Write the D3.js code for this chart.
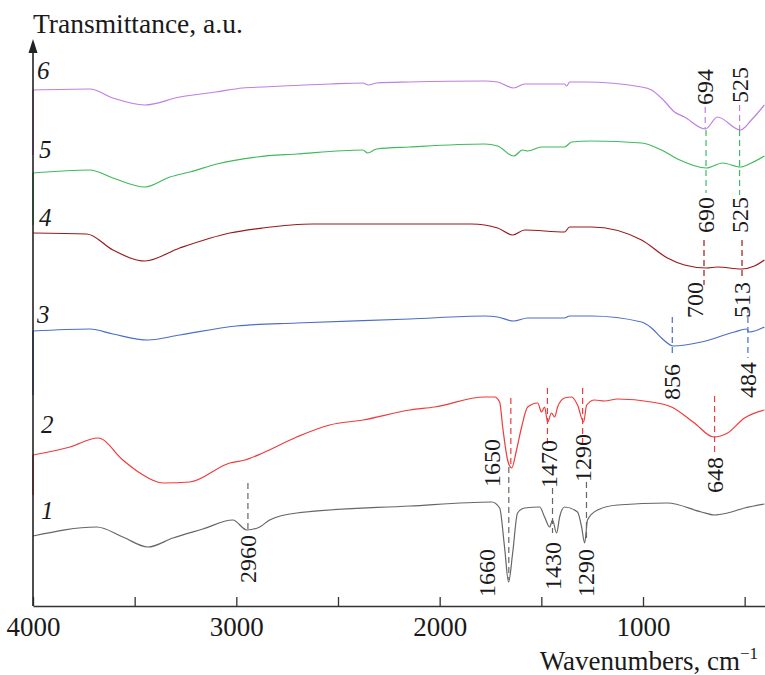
<!DOCTYPE html>
<html>
<head>
<meta charset="utf-8">
<script src="https://cdn.jsdelivr.net/npm/d3@7"></script>
<style>
  body { margin: 0; background: #fff; }
  text { font-family: "Liberation Serif", "Times New Roman", serif; fill: #1a1a1a; }
</style>
</head>
<body>
<div id="chart-area"></div>
<script>
// wavenumber (cm-1) and transmittance (a.u., curves stacked with offsets)
const wn1 = [4000, 3686, 3558, 3435, 3312, 3165, 3017, 2948, 2885, 2836, 2703, 2147, 1744, 1705, 1681, 1661, 1641, 1617, 1582, 1508, 1484, 1459, 1445, 1425, 1410, 1386, 1322, 1302, 1287, 1273, 1224, 1125, 880, 713, 649, 584, 501, 403];
const t1 = [7.0, 7.9, 6.9, 5.9, 6.8, 7.7, 8.6, 7.6, 7.9, 8.6, 9.3, 10.0, 10.4, 9.8, 5.9, 2.4, 5.3, 9.3, 9.8, 9.9, 8.9, 7.9, 8.6, 7.3, 8.9, 9.9, 9.4, 7.9, 6.3, 8.6, 9.6, 10.1, 10.3, 9.4, 9.1, 9.3, 9.8, 10.2];

const wn2 = [4000, 4000, 3818, 3680, 3558, 3474, 3361, 3229, 3032, 2958, 2870, 2703, 2541, 2378, 2147, 2025, 1779, 1730, 1705, 1690, 1666, 1646, 1622, 1597, 1567, 1518, 1499, 1484, 1469, 1450, 1435, 1420, 1386, 1351, 1322, 1292, 1277, 1238, 1189, 1125, 958, 860, 747, 653, 584, 501, 403];
const t2 = [11.1, 15.1, 15.9, 16.8, 14.6, 13.3, 12.3, 12.4, 14.3, 14.6, 15.3, 16.9, 18.1, 18.6, 19.6, 19.9, 20.9, 20.9, 20.4, 17.9, 14.6, 13.8, 15.6, 17.9, 19.9, 20.3, 19.4, 19.9, 18.4, 19.3, 18.9, 19.9, 20.8, 20.9, 20.1, 18.4, 20.1, 20.6, 20.5, 20.7, 20.4, 19.9, 18.3, 16.9, 17.3, 18.8, 19.6];

const wn3 = [4000, 4000, 3720, 3607, 3435, 3278, 3000, 2703, 2147, 1779, 1715, 1636, 1567, 1386, 1361, 1253, 1007, 958, 909, 850, 713, 551, 492, 477, 403];
const t3 = [21.1, 27.5, 27.7, 27.2, 26.6, 27.1, 28.0, 28.3, 28.7, 29.0, 28.9, 28.5, 28.8, 28.8, 29.0, 29.0, 28.4, 27.8, 26.8, 26.0, 26.4, 27.4, 27.7, 27.4, 27.9];

const wn4 = [4000, 3735, 3607, 3450, 3278, 3032, 2870, 2624, 2147, 1843, 1715, 1641, 1582, 1386, 1361, 1253, 1007, 880, 796, 688, 634, 516, 452, 403];
const t4 = [37.3, 37.2, 35.6, 34.5, 35.8, 37.3, 37.8, 38.2, 38.2, 38.2, 37.8, 37.1, 37.6, 37.4, 37.9, 37.9, 36.6, 34.8, 34.1, 33.8, 33.9, 33.7, 34.0, 34.6];

const wn5 = [4000, 4000, 3720, 3607, 3450, 3327, 3229, 3096, 2899, 2703, 2378, 2354, 2310, 2147, 1779, 1715, 1636, 1592, 1567, 1499, 1386, 1351, 1253, 1007, 909, 830, 688, 609, 521, 467, 403];
const t5 = [38.1, 43.3, 43.6, 42.8, 41.9, 42.9, 43.4, 44.2, 44.9, 45.2, 45.6, 45.3, 45.7, 45.9, 46.2, 46.0, 45.0, 45.6, 45.5, 45.9, 45.9, 46.4, 46.5, 46.3, 45.6, 44.7, 43.8, 44.3, 43.9, 44.3, 45.0];

const wn6 = [4000, 4000, 3720, 3607, 3450, 3278, 3100, 2968, 2870, 2540, 2378, 2350, 2310, 2147, 1779, 1715, 1636, 1582, 1386, 1376, 1360, 1287, 1007, 958, 900, 845, 796, 693, 634, 521, 467, 403];
const t6 = [45.1, 51.6, 51.7, 50.8, 50.1, 50.9, 51.4, 51.8, 51.9, 52.2, 52.3, 52.1, 52.3, 52.4, 52.5, 52.4, 51.8, 52.2, 52.2, 52.0, 52.4, 52.4, 51.9, 51.6, 50.6, 49.4, 48.9, 47.7, 48.9, 47.6, 48.6, 50.1];

const curveNames = ["1", "2", "3", "4", "5", "6"];
const curveColors = ["#666666", "#ee3b3b", "#4a6fc8", "#9a1a1a", "#3fba5c", "#bf7fe0"];
const xTicks = [4000, 3500, 3000, 2500, 2000, 1500, 1000, 500];

// peak marks: label, wavenumber of dashed line, curve, line from/to (a.u.), label start (a.u.), label shift (px)
const peakText  = ["2960", "1660", "1650", "1430", "1470", "1290", "1290", "648", "856", "484", "700", "513", "690", "525", "694", "525"];
const peakWn    = [2943, 1660, 1650, 1445, 1470, 1278, 1297, 648, 856, 484, 700, 513, 690, 525, 694, 525];
const peakCurve = [0, 0, 1, 0, 1, 0, 1, 1, 2, 2, 3, 3, 4, 4, 5, 5];
const peakFrom  = [12.3, 13.9, 20.8, 11.8, 21.8, 12.4, 21.8, 21.0, 28.9, 29.9, 36.6, 36.6, 47.6, 47.6, 49.9, 50.1];
const peakTo    = [7.6, 2.6, 13.9, 7.3, 15.9, 6.6, 16.3, 15.3, 24.9, 24.8, 32.1, 32.8, 41.3, 41.1, 47.7, 47.6];
const peakLabel = [2.3, 0.9, 11.9, 1.6, 11.8, 0.9, 12.4, 11.3, 20.6, 20.8, 28.8, 28.8, 37.3, 37.3, 50.1, 50.3];
const peakShift = [0, -22, -19, 0, 2, 0, 0, 0, 0, 0, -9, 0, 0, 0, 0, 0];

const series = [[wn1, t1], [wn2, t2], [wn3, t3], [wn4, t4], [wn5, t5], [wn6, t6]];

const W = 765, H = 675;
const svg = d3.select("#chart-area").append("svg")
  .attr("width", W)
  .attr("height", H);

const x = d3.scaleLinear().domain([4000, 400]).range([33, 765]);
const y = d3.scaleLinear().domain([0, 56.6]).range([606, 40]);

// curves
const line = d3.line()
  .x(d => x(d[0]))
  .y(d => y(d[1]))
  .curve(d3.curveMonotoneX);

series.forEach((s, i) => {
  const pts = s[0].map((w, j) => [w, s[1][j]]);
  // vertical edge at start (same x) drawn straight
  const edge = pts[0][0] === pts[1][0] ? pts.slice(0, 2) : null;
  const body = edge ? pts.slice(1) : pts;
  if (edge) {
    svg.append("path")
      .attr("d", d3.line().x(d => x(d[0])).y(d => y(d[1]))(edge))
      .attr("stroke", curveColors[i]).attr("stroke-width", 1.5).attr("fill", "none");
  }
  svg.append("path")
    .attr("d", line(body))
    .attr("stroke", curveColors[i])
    .attr("stroke-width", 1.2)
    .attr("fill", "none");
});

// x axis
const bottomAxis = d3.axisBottom(x)
  .tickValues(xTicks)
  .tickSizeInner(-9)
  .tickSizeOuter(0)
  .tickFormat(d => d % 1000 === 0 ? d : "");
const gx = svg.append("g")
  .attr("transform", `translate(0, ${y(0)})`)
  .call(bottomAxis);
gx.select(".domain").attr("stroke", "#333").attr("stroke-width", 1.6);
gx.selectAll(".tick line").attr("stroke", "#333").attr("stroke-width", 1.3);
gx.selectAll(".tick text")
  .attr("y", 30)
  .attr("dy", 0)
  .style("font-family", '"Liberation Serif", serif')
  .style("font-size", "27px")
  .attr("fill", "#1a1a1a");

// y axis with arrow
svg.append("line")
  .attr("x1", x(4000)).attr("x2", x(4000))
  .attr("y1", y(0)).attr("y2", 48)
  .attr("stroke", "#222").attr("stroke-width", 1.6);
svg.append("path")
  .attr("d", `M${x(4000)},39 L${x(4000) - 4.5},53 L${x(4000) + 4.5},53 Z`)
  .attr("fill", "#222");

svg.append("text")
  .attr("x", 33).attr("y", 33)
  .style("font-size", "27.5px")
  .text("Transmittance, a.u.");

const xl = svg.append("text")
  .attr("x", 758).attr("y", 670)
  .attr("text-anchor", "end")
  .style("font-size", "27px")
  .text("Wavenumbers, cm");
xl.append("tspan").attr("dy", -11).style("font-size", "17px").text("\u22121");

// curve numbers
const numY = [519, 433, 323, 226, 158, 79];
const numX = [41, 41, 37, 39, 39, 37];
curveNames.forEach((n, i) => {
  svg.append("text")
    .attr("x", numX[i]).attr("y", numY[i])
    .style("font-size", "25px")
    .style("font-style", "italic")
    .text(n);
});

// peak marks
peakText.forEach((t, i) => {
  const px = x(peakWn[i]);
  const c = curveColors[peakCurve[i]];
  svg.append("line")
    .attr("x1", px).attr("x2", px)
    .attr("y1", y(peakFrom[i])).attr("y2", y(peakTo[i]))
    .attr("stroke", c)
    .attr("stroke-width", 1.2)
    .attr("stroke-dasharray", "6,4");
  const lx = px + peakShift[i];
  const ly = y(peakLabel[i]);
  svg.append("text")
    .attr("transform", `translate(${lx},${ly}) rotate(-90)`)
    .attr("dominant-baseline", "central")
    .style("font-size", "24px")
    .text(t);
});
</script>
</body>
</html>
